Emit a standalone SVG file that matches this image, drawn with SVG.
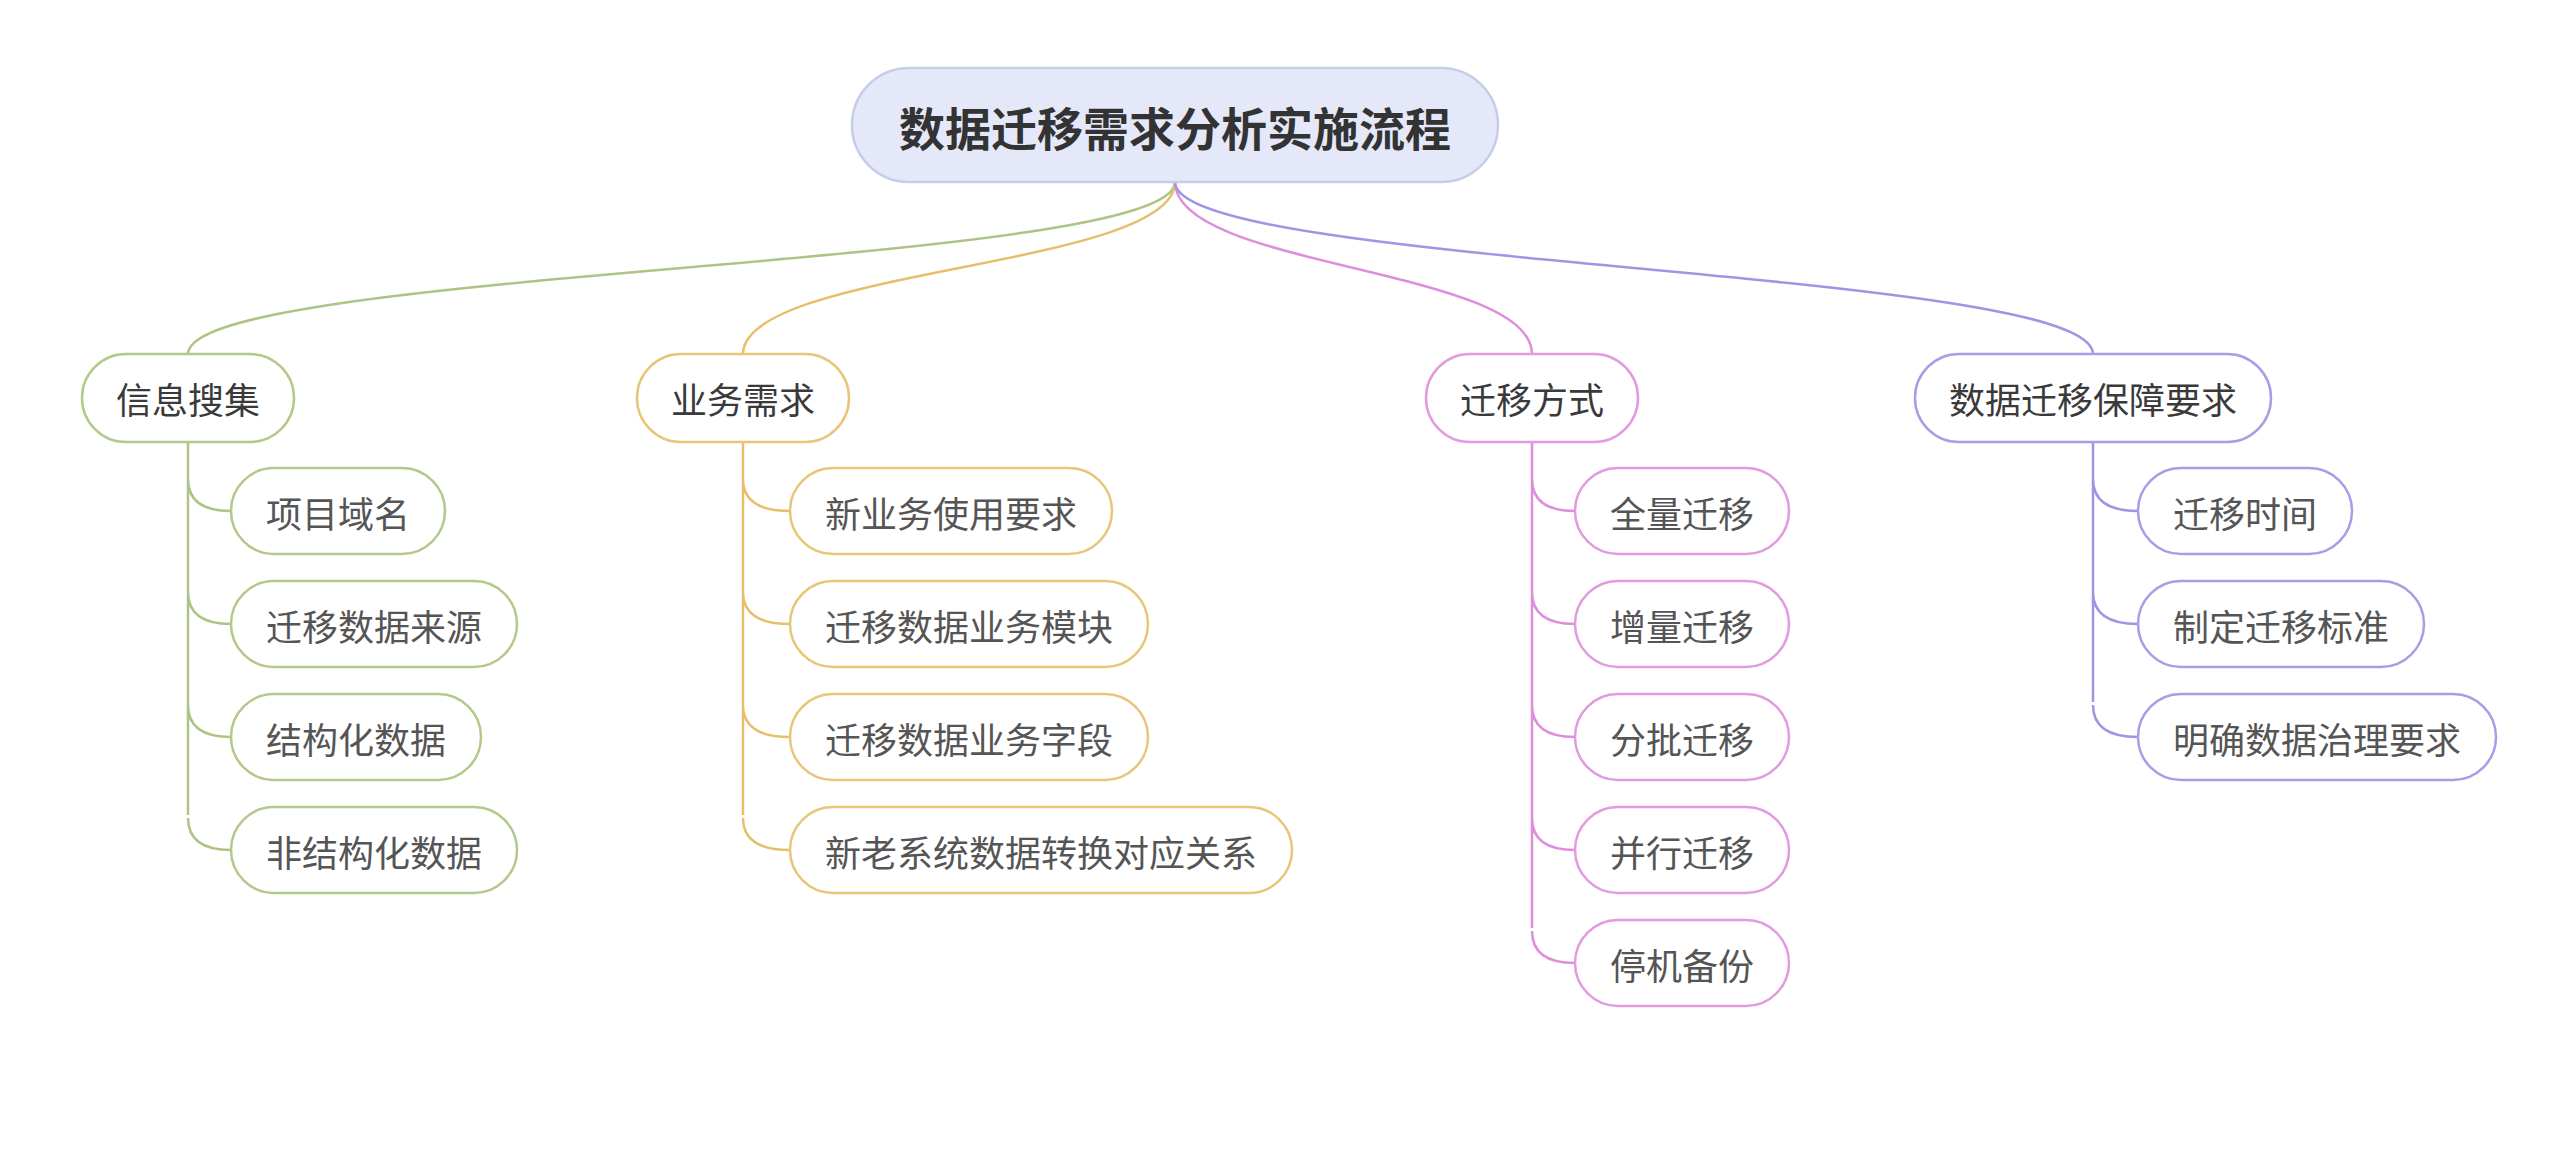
<svg xmlns="http://www.w3.org/2000/svg" width="2560" height="1165" viewBox="0 0 2560 1165">
<style>
text{font-family:"Noto Sans CJK SC","Noto Sans",sans-serif;text-anchor:middle;dominant-baseline:central}
.root rect{fill:#e4e8f9;stroke:#c6cde9;stroke-width:2.5}
.root text{font-size:46px;font-weight:bold;fill:#333}
.n rect{fill:#fff;stroke-width:2.5}
.l1 text{font-size:36px;fill:#3a3a3a}
.l2 text{font-size:36px;fill:#555}
.g rect{stroke:#b3c98a}.o rect{stroke:#e9c57a}.p rect{stroke:#e29ae0}.v rect{stroke:#a79ee6}
.c path{fill:none;stroke-width:2.5}
.cg{stroke:#aec486}.co{stroke:#e7bf6c}.cp{stroke:#de8edb}.cv{stroke:#9f95e2}
</style>
<rect width="2560" height="1165" fill="#fff"/>
<g id="connectors" class="c">
<path class="cg" d="M1175,182 C1175,268 188,268 188,354"/>
<path class="co" d="M1175,182 C1175,268 743,268 743,354"/>
<path class="cp" d="M1175,182 C1175,268 1532,268 1532,354"/>
<path class="cv" d="M1175,182 C1175,268 2093,268 2093,354"/>
<path class="cg" d="M188,442 V815 M188,479 Q188,511 231,511 M188,592 Q188,624 231,624 M188,705 Q188,737 231,737 M188,818 Q188,850 231,850"/>
<path class="co" d="M743,442 V815 M743,479 Q743,511 790,511 M743,592 Q743,624 790,624 M743,705 Q743,737 790,737 M743,818 Q743,850 790,850"/>
<path class="cp" d="M1532,442 V928 M1532,479 Q1532,511 1575,511 M1532,592 Q1532,624 1575,624 M1532,705 Q1532,737 1575,737 M1532,818 Q1532,850 1575,850 M1532,931 Q1532,963 1575,963"/>
<path class="cv" d="M2093,442 V702 M2093,479 Q2093,511 2138,511 M2093,592 Q2093,624 2138,624 M2093,705 Q2093,737 2138,737"/>
</g>
<g id="root" class="root"><rect x="852" y="68" width="646" height="114" rx="57"/><text x="1175" y="126">数据迁移需求分析实施流程</text></g>
<g id="n1" class="n l1 g"><rect x="82" y="354" width="212" height="88" rx="44"/><text x="188" y="398">信息搜集</text></g>
<g id="n2" class="n l1 o"><rect x="637" y="354" width="212" height="88" rx="44"/><text x="743" y="398">业务需求</text></g>
<g id="n3" class="n l1 p"><rect x="1426" y="354" width="212" height="88" rx="44"/><text x="1532" y="398">迁移方式</text></g>
<g id="n4" class="n l1 v"><rect x="1915" y="354" width="356" height="88" rx="44"/><text x="2093" y="398">数据迁移保障要求</text></g>
<g id="n1a" class="n l2 g"><rect x="231" y="468" width="214" height="86" rx="43"/><text x="338" y="512">项目域名</text></g>
<g id="n1b" class="n l2 g"><rect x="231" y="581" width="286" height="86" rx="43"/><text x="374" y="625">迁移数据来源</text></g>
<g id="n1c" class="n l2 g"><rect x="231" y="694" width="250" height="86" rx="43"/><text x="356" y="738">结构化数据</text></g>
<g id="n1d" class="n l2 g"><rect x="231" y="807" width="286" height="86" rx="43"/><text x="374" y="851">非结构化数据</text></g>
<g id="n2a" class="n l2 o"><rect x="790" y="468" width="322" height="86" rx="43"/><text x="951" y="512">新业务使用要求</text></g>
<g id="n2b" class="n l2 o"><rect x="790" y="581" width="358" height="86" rx="43"/><text x="969" y="625">迁移数据业务模块</text></g>
<g id="n2c" class="n l2 o"><rect x="790" y="694" width="358" height="86" rx="43"/><text x="969" y="738">迁移数据业务字段</text></g>
<g id="n2d" class="n l2 o"><rect x="790" y="807" width="502" height="86" rx="43"/><text x="1041" y="851">新老系统数据转换对应关系</text></g>
<g id="n3a" class="n l2 p"><rect x="1575" y="468" width="214" height="86" rx="43"/><text x="1682" y="512">全量迁移</text></g>
<g id="n3b" class="n l2 p"><rect x="1575" y="581" width="214" height="86" rx="43"/><text x="1682" y="625">增量迁移</text></g>
<g id="n3c" class="n l2 p"><rect x="1575" y="694" width="214" height="86" rx="43"/><text x="1682" y="738">分批迁移</text></g>
<g id="n3d" class="n l2 p"><rect x="1575" y="807" width="214" height="86" rx="43"/><text x="1682" y="851">并行迁移</text></g>
<g id="n3e" class="n l2 p"><rect x="1575" y="920" width="214" height="86" rx="43"/><text x="1682" y="964">停机备份</text></g>
<g id="n4a" class="n l2 v"><rect x="2138" y="468" width="214" height="86" rx="43"/><text x="2245" y="512">迁移时间</text></g>
<g id="n4b" class="n l2 v"><rect x="2138" y="581" width="286" height="86" rx="43"/><text x="2281" y="625">制定迁移标准</text></g>
<g id="n4c" class="n l2 v"><rect x="2138" y="694" width="358" height="86" rx="43"/><text x="2317" y="738">明确数据治理要求</text></g>
</svg>
